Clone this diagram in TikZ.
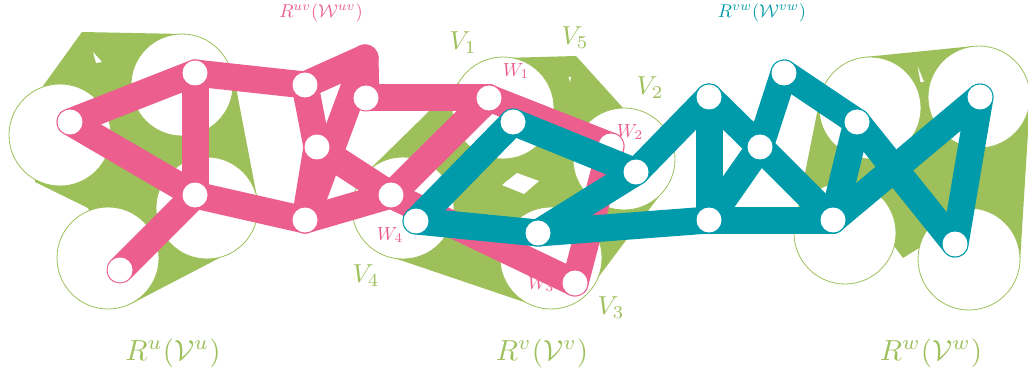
\documentclass[tikz,border=0pt]{standalone}
\definecolor{gr}{RGB}{157,192,90}
\definecolor{pk}{RGB}{236,94,141}
\definecolor{tl}{RGB}{0,155,170}
\begin{document}
\begin{tikzpicture}[x=1pt,y=-1pt,
  hull/.style={fill=gr},
  hole/.style={fill=white},
  bigc/.style={fill=white,draw=gr,line width=0.8pt},
  pband/.style={draw=pk,line width=27pt,line cap=round,line join=round},
  tband/.style={draw=tl,line width=27pt,line cap=round,line join=round},
  glab/.style={text=gr,inner sep=0pt},
  plab/.style={text=pk,inner sep=0pt},
  tlab/.style={text=tl,inner sep=0pt}]
\useasboundingbox (0,0) rectangle (1028,377);
% body centres
\coordinate (C1) at (60,135); \coordinate (C2) at (182,85);
\coordinate (C3) at (207,208); \coordinate (C4) at (108,258);
\coordinate (V1) at (503,108); \coordinate (V2) at (624,159);
\coordinate (V3) at (551,258); \coordinate (V4) at (403,208);
\coordinate (W1) at (870,108); \coordinate (W2) at (979,97);
\coordinate (W3) at (845,233); \coordinate (W4) at (969,259);
% green bodies
\fill[hull] (82,32) -- (183,34) -- (234,77) -- (257,197) -- (229,253) -- (131,304)
  -- (88,208) -- (35,182) -- (43,86) -- cycle;
\fill[hull] (503,58) -- (576,56) -- (624,109) -- (660,195) -- (597,279) -- (527,303)
  -- (397,259) -- (367,172) -- (468,73) -- cycle;
\fill[hull] (865,57) -- (974,46) -- (1030,100) -- (1020,262) -- (919,248) -- (903,258)
  -- (894,246) -- (795,223) -- (820,98) -- cycle;
\fill[hole] (93,52) -- (102,62) -- (96,63) -- cycle;
\fill[hole] (502,185) -- (517,173) -- (539,181) -- (524,194) -- cycle;
\fill[hole] (568.5,77) -- (571,77) -- (570,82) -- cycle;
\fill[hole] (917.5,66) -- (924,82) -- (920.5,82) -- cycle;
\foreach \c in {C1,C2,C3,C4,V1,V2,V3,V4,W1,W2,W3,W4}
  \draw[bigc] (\c) circle[radius=51pt];
% labels
\node[glab] (Lu) at (173,353) {\scalebox{2.9}{$R^u(\mathcal{V}^u)$}};
\node[glab] (Lv) at (542,353) {\scalebox{2.9}{$R^v(\mathcal{V}^v)$}};
\node[glab] (Lw) at (931,353) {\scalebox{2.9}{$R^w(\mathcal{V}^w)$}};
\node[plab] (Luv) at (321,13) {\scalebox{1.85}{$R^{uv}(\mathcal{W}^{uv})$}};
\node[tlab] (Lvw) at (762,13) {\scalebox{1.85}{$R^{vw}(\mathcal{W}^{vw})$}};
\node[glab] (lV1) at (463,43) {\scalebox{2.6}{$V_1$}};
\node[glab] (lV5) at (575,38) {\scalebox{2.6}{$V_5$}};
\node[glab] (lV2) at (650,88) {\scalebox{2.6}{$V_2$}};
\node[glab] (lV3) at (611,308) {\scalebox{2.6}{$V_3$}};
\node[glab] (lV4) at (366,276) {\scalebox{2.6}{$V_4$}};
\node[plab] (lW1) at (516,71) {\scalebox{1.9}{$W_1$}};
\node[plab] (lW2) at (630,132) {\scalebox{1.9}{$W_2$}};
\node[plab] (lW3) at (541,284) {\scalebox{1.9}{$W_3$}};
\node[plab] (lW4) at (390,235) {\scalebox{1.9}{$W_4$}};
% pink framework
\coordinate (P1) at (70,122); \coordinate (P2) at (195,73);
\coordinate (P3) at (195,195); \coordinate (P4) at (120,270);
\coordinate (P5) at (305,85); \coordinate (P6) at (317,147);
\coordinate (P7) at (305,220); \coordinate (PA) at (365,58);
\coordinate (P9) at (366,98); \coordinate (P10) at (489,98);
\coordinate (P11) at (611,146); \coordinate (P12) at (391,195);
\coordinate (P13) at (575,283);
\foreach \a/\b in {P1/P2,P1/P3,P2/P3,P3/P4,P2/P5,P3/P7,P5/P6,P6/P7,P5/PA,PA/P9,PA/P7,
  P6/P12,P7/P12,P9/P10,P10/P12,P10/P11,P11/P13,P12/P13}
  \draw[pband] (\a) -- (\b);
\foreach \p in {P1,P2,P3,P4,P5,P6,P7,P9,P10,P11,P12,P13}
  \fill[white] (\p) circle[radius=12.5pt];
% teal framework
\coordinate (T1) at (416,221); \coordinate (T2) at (513,122);
\coordinate (T3) at (538,233); \coordinate (T4) at (636,172);
\coordinate (T5) at (709,97); \coordinate (T6) at (709,220);
\coordinate (T7) at (760,147); \coordinate (T8) at (784,73);
\coordinate (T9) at (857,122); \coordinate (T10) at (833,220);
\coordinate (T11) at (980,97); \coordinate (T12) at (955,244);
\foreach \a/\b in {T1/T2,T1/T3,T2/T4,T3/T4,T3/T6,T4/T5,T5/T6,T5/T7,T6/T7,T6/T10,
  T7/T10,T7/T8,T8/T9,T9/T10,T9/T12,T10/T11,T11/T12}
  \draw[tband] (\a) -- (\b);
\foreach \p in {T1,T2,T3,T4,T5,T6,T7,T8,T9,T10,T11,T12}
  \fill[white] (\p) circle[radius=12.5pt];
\end{tikzpicture}
\end{document}
